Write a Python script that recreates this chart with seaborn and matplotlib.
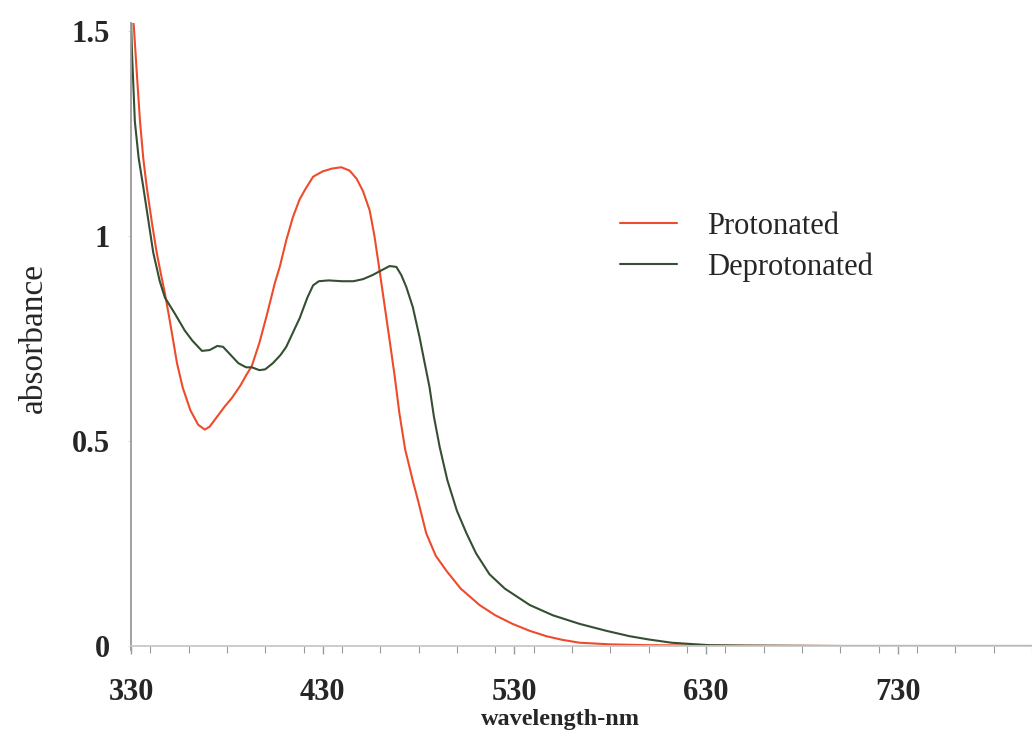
import numpy as np
import pandas as pd
import seaborn as sns
import matplotlib.pyplot as plt
from matplotlib.ticker import MultipleLocator, FixedLocator, FuncFormatter

# spectra (nm, absorbance)
wl_prot = [330, 331.5, 333, 334.7, 336.4, 338.2, 341, 343.4, 345.5, 347.7, 350, 354, 357, 361, 365,
           368.5, 371, 375, 379, 382.6, 387, 390, 393, 397, 401, 405, 407.6, 411, 414.5,
           418, 421, 425, 430, 435, 439.7, 444, 447.7, 451, 454.5, 457, 459.7,
           462, 464.9, 467.5, 470, 473, 476.9, 480, 484, 489, 494.6, 502, 511.8, 520,
           529, 538, 546.6, 555, 564, 580, 600, 630, 700, 800]
abs_prot = [1.58, 1.51, 1.40, 1.28, 1.19, 1.12, 1.03, 0.96, 0.91, 0.86, 0.80, 0.69, 0.63, 0.575, 0.54,
            0.528, 0.535, 0.56, 0.585, 0.605, 0.635, 0.66, 0.683, 0.74, 0.81, 0.885, 0.925, 0.99, 1.047,
            1.09, 1.115, 1.145, 1.158, 1.165, 1.168, 1.16, 1.14, 1.11, 1.063, 1.0, 0.915,
            0.84, 0.746, 0.66, 0.568, 0.48, 0.405, 0.35, 0.275, 0.22, 0.183, 0.14, 0.10, 0.075,
            0.054, 0.037, 0.024, 0.015, 0.008, 0.004, 0.002, 0.001, 0.0, 0.0]

wl_deprot = [330, 330.5, 332, 334, 336.4, 339, 341.6, 345, 347.7, 353, 358, 362, 367, 371, 375,
             378, 382, 386, 390, 393, 397, 400, 404, 408, 411, 414, 418, 422, 425, 428, 433,
             440, 446, 451, 456, 460, 464.9, 468.4, 471, 473.6, 477, 480.5, 483, 485.7, 488, 491,
             495, 500, 505, 510, 517, 525, 538, 550, 564, 578, 590, 600, 612, 625, 632, 650,
             700, 800]
abs_deprot = [1.53, 1.45, 1.28, 1.19, 1.12, 1.04, 0.96, 0.89, 0.85, 0.81, 0.77, 0.745, 0.72, 0.722, 0.732,
              0.73, 0.71, 0.69, 0.68, 0.68, 0.673, 0.675, 0.69, 0.71, 0.73, 0.76, 0.80, 0.85, 0.88, 0.89, 0.892,
              0.89, 0.89, 0.895, 0.905, 0.915, 0.927, 0.925, 0.905, 0.876, 0.827, 0.754, 0.695, 0.632, 0.56, 0.486,
              0.405, 0.33, 0.275, 0.226, 0.175, 0.14, 0.10, 0.075, 0.054, 0.037, 0.024, 0.016, 0.008, 0.004, 0.002, 0.001,
              0.0, 0.0]

x_major = [330, 430, 530, 630, 730]
y_major = [0, 0.5, 1, 1.5]

df = pd.concat([
    pd.DataFrame({"wavelength": wl_prot, "absorbance": abs_prot, "sample": "Protonated"}),
    pd.DataFrame({"wavelength": wl_deprot, "absorbance": abs_deprot, "sample": "Deprotonated"}),
])

sns.set_style("white")
plt.rcParams['font.family'] = ['Liberation Serif', 'DejaVu Serif']

fig = plt.figure(figsize=(10.32, 7.34), dpi=100)
ax = fig.add_axes([131 / 1032, 1 - 646 / 734, 901 / 1032, 623 / 734])

sns.lineplot(data=df, x="wavelength", y="absorbance", hue="sample",
             palette={"Protonated": "#ee4b2c", "Deprotonated": "#354f32"},
             estimator=None, sort=False, linewidth=1.5, ax=ax)

ax.set_xlim(330, 800)
ax.set_ylim(0, 1.52)

sns.despine(ax=ax)
ax.spines['left'].set_color('#9a9a9a')
ax.spines['left'].set_linewidth(1.3)
ax.spines['left'].set_bounds(-0.01, 1.52)
ax.spines['bottom'].set_color('#c8c8c8')
ax.spines['bottom'].set_linewidth(1.3)

ax.xaxis.set_major_locator(FixedLocator(x_major))
ax.xaxis.set_minor_locator(MultipleLocator(20))
ax.yaxis.set_major_locator(FixedLocator(y_major))
ax.yaxis.set_major_formatter(FuncFormatter(lambda v, p: f"{v:g}"))
ax.tick_params(axis='x', which='both', direction='out', color='#9a9a9a', bottom=True)
ax.tick_params(axis='x', which='major', length=6, width=1, pad=17)
ax.tick_params(axis='x', which='minor', length=5, width=0.8)
ax.tick_params(axis='y', which='major', length=2, color='#dddddd', left=True, pad=13)
for lab in ax.get_xticklabels() + ax.get_yticklabels():
    lab.set_fontsize(22)
    lab.set_fontweight('bold')

ax.set_xlabel("wavelength-nm", fontsize=17.5, fontweight='bold')
ax.xaxis.set_label_coords(0.477, -0.101)
ax.set_ylabel("absorbance", fontsize=24)
ax.yaxis.set_label_coords(-0.091, 0.494)

sns.move_legend(ax, loc="upper left", bbox_to_anchor=(0.543, 0.697), frameon=False,
                title=None, fontsize=22, handlelength=1.87, handletextpad=0.98,
                labelspacing=0.38, borderpad=0, borderaxespad=0)

fig.savefig("out.png", dpi=100)
